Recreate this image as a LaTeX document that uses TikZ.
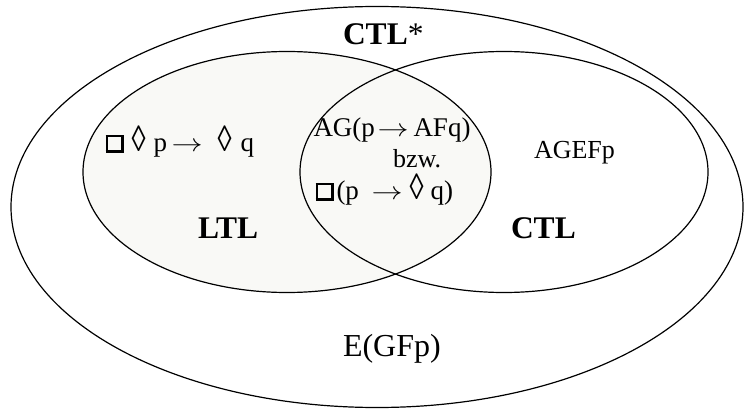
\documentclass[tikz,border=0pt]{standalone}
\usepackage{fontspec}
\setmainfont{Liberation Serif}
\usetikzlibrary{shapes.geometric}
\definecolor{ltlfill}{RGB}{249,249,246}
\newcommand\bsq{\raisebox{1pt}{\setlength\fboxrule{2.5pt}\setlength\fboxsep{0pt}\fbox{\rule{0pt}{13pt}\hspace{13pt}}}}
\newcommand\dia{\scalebox{1.05}[1.35]{◊}}
\newcommand\arr{\scalebox{1.25}[1]{$\rightarrow$}}
\newcommand\putat[2]{\makebox[0pt][l]{\hspace{#1}#2}}
\begin{document}
\begin{tikzpicture}[x=1pt,y=-1pt,
  region/.style={ellipse, draw, line width=1.2pt, inner sep=0pt, outer sep=0pt},
  txt/.style={inner sep=0pt, outer sep=0pt, anchor=base west, font=\fontsize{26}{30}\selectfont},
  frm/.style={inner sep=0pt, outer sep=0pt, anchor=base west, font=\fontsize{27}{30}\selectfont},
  big/.style={inner sep=0pt, outer sep=0pt, anchor=base west, font=\fontsize{31.5}{34}\selectfont\bfseries}]
\useasboundingbox (0,0) rectangle (744,409);
\node[region, minimum width=732pt, minimum height=401pt] (ctlstar) at (377,207) {};
\fill[ltlfill] (287,172) ellipse [x radius=204pt, y radius=120.5pt];
\node[region, minimum width=408pt, minimum height=241pt] (ctl) at (504,172) {};
\node[region, minimum width=408pt, minimum height=241pt] (ltl) at (287,172) {};
\node[big] (ctlstarlbl) at (343,45) {CTL\textmd{*}};
\node[big] (ltllbl) at (198,238) {LTL};
\node[big] (ctllbl) at (511,238) {CTL};
\node[frm] (f1) at (105,151) {\putat{0pt}{\bsq}\putat{26pt}{\dia}\putat{48pt}{p}\putat{66pt}{\arr}\putat{112pt}{\dia}\putat{135pt}{q}};
\node[frm] (f2) at (313,137) {\putat{0pt}{AG(p}\putat{64pt}{\arr}\putat{100pt}{AFq)}};
\node[txt] (f3) at (393,167) {bzw.};
\node[frm] (f4) at (315,199) {\putat{0pt}{\bsq}\putat{21pt}{(p}\putat{56pt}{\arr}\putat{94pt}{\dia}\putat{115pt}{q)}};
\node[txt] (f5) at (534,158) {AGEFp};
\node[txt, font=\fontsize{32}{36}\selectfont] (f6) at (343,356) {E(GFp)};
\end{tikzpicture}
\end{document}
